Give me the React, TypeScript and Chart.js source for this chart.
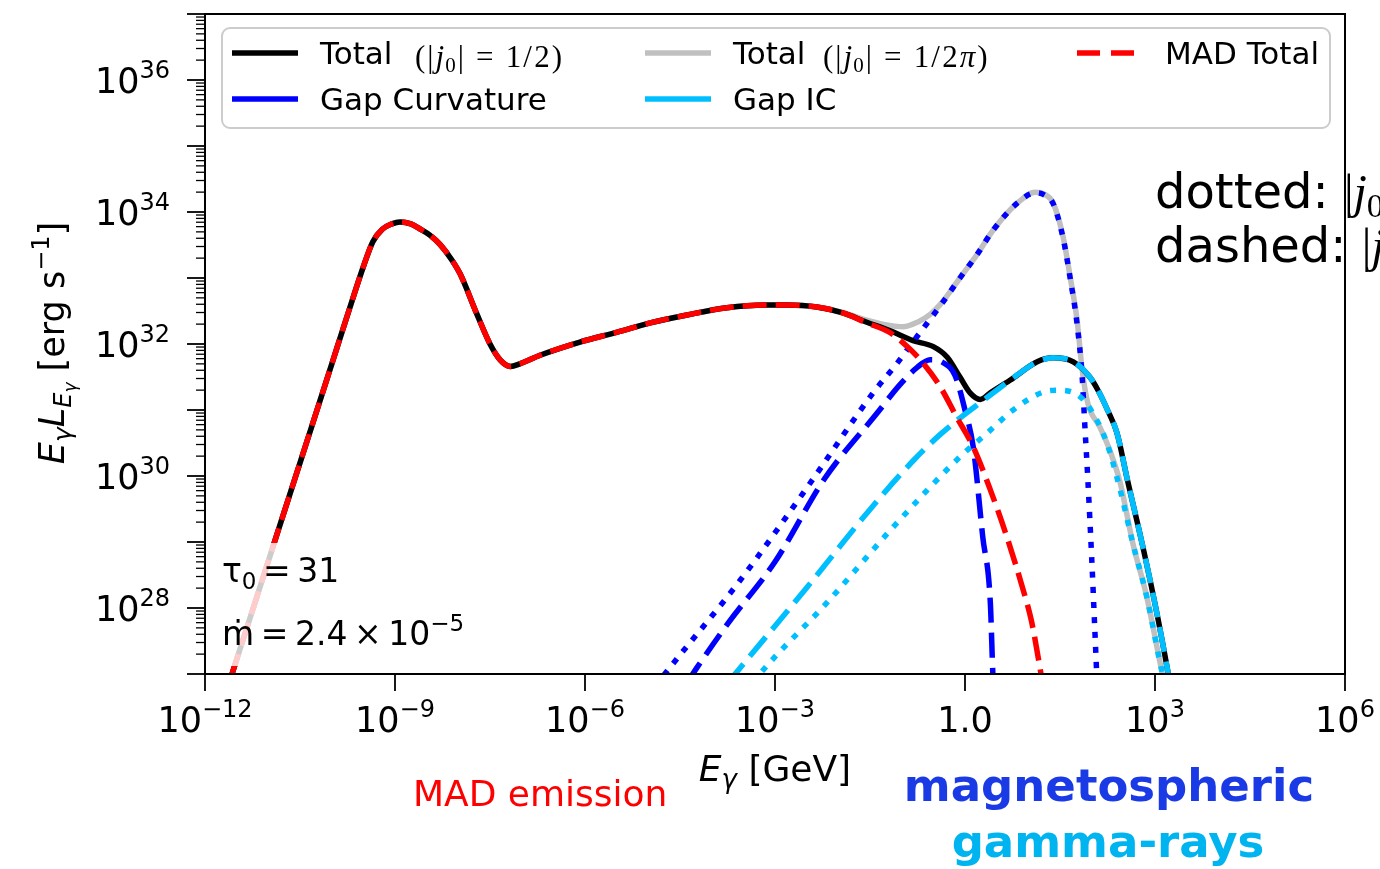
import React, { useEffect, useRef } from 'react';
import { Chart, registerables } from 'chart.js';
Chart.register(...registerables);

const W = 1380;
const H = 869;

// log10(E_gamma / GeV) and log10(E L_E / erg s^-1)
const madLogE = [-11.75, -11.574, -11.0, -10.5, -10.0, -9.71, -9.5, -9.35, -9.2, -9.05, -8.92, -8.75, -8.6, -8.45, -8.29, -8.1, -7.97, -7.71, -7.5, -7.34, -7.18, -7.03, -6.71, -6.08, -5.49, -4.97, -4.39, -3.76, -3.13, -2.81, -2.34, -1.93, -1.55, -1.18, -0.9, -0.66, -0.39, -0.13, 0.13, 0.4, 0.66, 0.92, 1.05, 1.2, 1.3];
const madLogL = [26.48, 27.0, 28.71, 30.2, 31.69, 32.56, 33.17, 33.55, 33.74, 33.82, 33.85, 33.82, 33.74, 33.65, 33.51, 33.27, 33.06, 32.46, 32.0, 31.76, 31.66, 31.7, 31.83, 32.03, 32.18, 32.32, 32.44, 32.55, 32.59, 32.59, 32.56, 32.47, 32.32, 32.17, 31.95, 31.71, 31.35, 30.89, 30.44, 29.79, 29.08, 28.27, 27.8, 27.0, 26.4];

const totHalfLogE = [-11.75, -11.574, -11.0, -10.5, -10.0, -9.71, -9.5, -9.35, -9.2, -9.05, -8.92, -8.75, -8.6, -8.45, -8.29, -8.1, -7.97, -7.71, -7.5, -7.34, -7.18, -7.03, -6.71, -6.08, -5.49, -4.97, -4.39, -3.76, -3.13, -2.81, -2.34, -1.93, -1.55, -1.18, -0.82, -0.5, -0.28, -0.08, 0.08, 0.24, 0.4, 0.71, 1.14, 1.39, 1.71, 1.97, 2.1, 2.25, 2.4, 2.56, 2.81, 3.03, 3.21, 3.3];
const totHalfLogL = [26.48, 27.0, 28.71, 30.2, 31.69, 32.56, 33.17, 33.55, 33.74, 33.82, 33.85, 33.82, 33.74, 33.65, 33.51, 33.27, 33.06, 32.46, 32.0, 31.76, 31.66, 31.7, 31.83, 32.03, 32.18, 32.32, 32.44, 32.55, 32.59, 32.59, 32.56, 32.47, 32.33, 32.2, 32.05, 31.96, 31.8, 31.5, 31.26, 31.16, 31.26, 31.45, 31.73, 31.79, 31.73, 31.5, 31.3, 31.0, 30.65, 29.96, 28.92, 27.92, 27.0, 26.5];

const totPiLogE = [-11.75, -11.574, -11.0, -10.5, -10.0, -9.71, -9.5, -9.35, -9.2, -9.05, -8.92, -8.75, -8.6, -8.45, -8.29, -8.1, -7.97, -7.71, -7.5, -7.34, -7.18, -7.03, -6.71, -6.08, -5.49, -4.97, -4.39, -3.76, -3.13, -2.81, -2.34, -1.93, -1.55, -1.3, -0.98, -0.75, -0.55, -0.39, -0.08, 0.2, 0.44, 0.82, 1.11, 1.25, 1.39, 1.55, 1.66, 1.77, 1.85, 1.94, 2.13, 2.29, 2.45, 2.65, 2.87, 3.08, 3.2];
const totPiLogL = [26.48, 27.0, 28.71, 30.2, 31.69, 32.56, 33.17, 33.55, 33.74, 33.82, 33.85, 33.82, 33.74, 33.65, 33.51, 33.27, 33.06, 32.46, 32.0, 31.76, 31.66, 31.7, 31.83, 32.03, 32.18, 32.32, 32.44, 32.55, 32.59, 32.59, 32.56, 32.48, 32.36, 32.3, 32.26, 32.33, 32.45, 32.6, 33.0, 33.37, 33.72, 34.13, 34.3, 34.27, 34.14, 33.62, 33.02, 32.36, 31.61, 31.1, 30.74, 30.38, 29.9, 28.98, 28.17, 27.17, 26.6];

const curvHalfLogE = [-4.4, -4.23, -3.74, -3.0, -2.21, -1.39, -1.03, -0.75, -0.55, -0.35, -0.16, 0.0, 0.13, 0.28, 0.4, 0.44, 0.48];
const curvHalfLogL = [26.85, 27.1, 27.77, 28.7, 29.97, 30.95, 31.38, 31.65, 31.76, 31.72, 31.53, 31.0, 30.44, 29.08, 28.08, 27.0, 26.3];

const curvPiLogE = [-4.9, -4.74, -3.55, -2.49, -1.45, -1.07, -0.76, -0.39, -0.08, 0.2, 0.44, 0.82, 1.11, 1.25, 1.39, 1.55, 1.66, 1.77, 1.85, 1.89, 1.94, 2.0, 2.05, 2.08, 2.12];
const curvPiLogL = [26.8, 27.0, 28.42, 29.83, 31.26, 31.71, 32.11, 32.58, 33.0, 33.37, 33.72, 34.13, 34.29, 34.26, 34.13, 33.6, 33.0, 32.3, 31.5, 30.8, 29.94, 28.77, 27.67, 27.0, 26.3];

const icHalfLogE = [-3.75, -3.63, -2.49, -1.45, -0.8, -0.39, -0.05, 0.28, 0.5, 0.71, 1.14, 1.39, 1.71, 1.97, 2.1, 2.25, 2.4, 2.56, 2.81, 3.03, 3.21, 3.3];
const icHalfLogL = [26.86, 27.0, 28.32, 29.55, 30.25, 30.63, 30.9, 31.14, 31.3, 31.45, 31.73, 31.79, 31.73, 31.5, 31.3, 31.0, 30.65, 29.96, 28.92, 27.92, 27.0, 26.5];

const icPiLogE = [-3.35, -3.24, -2.18, -1.13, -0.08, 0.35, 0.76, 1.23, 1.5, 1.82, 2.02, 2.24, 2.45, 2.65, 2.87, 3.08, 3.12, 3.2];
const icPiLogL = [26.86, 27.0, 28.08, 29.23, 30.29, 30.65, 31.0, 31.27, 31.3, 31.2, 30.95, 30.5, 29.79, 28.98, 28.17, 27.17, 27.0, 26.6];

const xTickExps = [-12, -9, -6, -3, 0, 3, 6];
const yLabelExps = [28, 30, 32, 34, 36];
const yDecades = [27, 28, 29, 30, 31, 32, 33, 34, 35, 36, 37];

const SANS = '"DejaVu Sans", sans-serif';
const SERIF = '"Liberation Serif", "DejaVu Serif", serif';
const f = (px: number, style = '', fam = SANS) => `${style} ${px}px ${fam}`.trim();

const toPts = (lx: number[], ly: number[]) => lx.map((v, i) => ({ x: Math.pow(10, v), y: Math.pow(10, ly[i]) }));

type Run = { t: string; f: string; dy?: number; ls?: number };
function runWidth(ctx: CanvasRenderingContext2D, r: Run) {
  ctx.font = r.f;
  return ctx.measureText(r.t).width + (r.ls || 0) * r.t.length;
}
function drawRuns(ctx: CanvasRenderingContext2D, runs: Run[], x: number, y: number, align: 'left' | 'center' | 'right' = 'left') {
  let w = 0;
  for (const r of runs) w += runWidth(ctx, r);
  let cx = align === 'left' ? x : align === 'center' ? x - w / 2 : x - w;
  ctx.textAlign = 'left';
  ctx.textBaseline = 'alphabetic';
  for (const r of runs) {
    ctx.font = r.f;
    if (r.ls) {
      for (const ch of r.t) {
        ctx.fillText(ch, cx, y + (r.dy || 0));
        cx += ctx.measureText(ch).width + r.ls;
      }
    } else {
      ctx.fillText(r.t, cx, y + (r.dy || 0));
      cx += ctx.measureText(r.t).width;
    }
  }
  return cx;
}

const supLabel = (e: number): Run[] => {
  if (e === 0) return [{ t: '1.0', f: f(35) }];
  return [{ t: '10', f: f(35) }, { t: String(e).replace('-', '\u2212'), f: f(24), dy: -15 }];
};

const overlay = {
  id: 'overlay',
  afterDatasetsDraw(chart: any) {
    const ctx: CanvasRenderingContext2D = chart.ctx;
    const xs = chart.scales.x;
    const ys = chart.scales.y;
    const { left, right, top, bottom } = chart.chartArea;
    ctx.save();

    // translucent annotation box
    ctx.fillStyle = 'rgba(255,255,255,0.8)';
    ctx.fillRect(left + 4, 543, 270, bottom - 8 - 543);

    ctx.fillStyle = '#000';
    drawRuns(ctx, [{ t: '\u03c4', f: f(33) }, { t: '0', f: f(23), dy: 7 }, { t: '\u2009=\u200931', f: f(33) }], 222, 582);
    drawRuns(ctx, [{ t: '\u1e41\u2009=\u20092.4\u2009\u00d7\u200910', f: f(33) }, { t: '\u22125', f: f(23), dy: -14 }], 222, 645);

    // legend
    const lx0 = 222, ly0 = 28, lw = 1108, lh = 100, rr = 8;
    ctx.beginPath();
    ctx.moveTo(lx0 + rr, ly0);
    ctx.arcTo(lx0 + lw, ly0, lx0 + lw, ly0 + lh, rr);
    ctx.arcTo(lx0 + lw, ly0 + lh, lx0, ly0 + lh, rr);
    ctx.arcTo(lx0, ly0 + lh, lx0, ly0, rr);
    ctx.arcTo(lx0, ly0, lx0 + lw, ly0, rr);
    ctx.closePath();
    ctx.fillStyle = 'rgba(255,255,255,0.8)';
    ctx.fill();
    ctx.strokeStyle = '#cccccc';
    ctx.lineWidth = 2;
    ctx.stroke();

    const handle = (x1: number, y: number, color: string, dash: number[]) => {
      ctx.save();
      ctx.strokeStyle = color;
      ctx.lineWidth = 5.5;
      ctx.lineCap = 'butt';
      ctx.setLineDash(dash);
      ctx.beginPath();
      ctx.moveTo(x1, y);
      ctx.lineTo(x1 + 66, y);
      ctx.stroke();
      ctx.restore();
    };
    handle(232, 53, '#000000', []);
    handle(645, 53, '#c0c0c0', []);
    handle(1077, 53, '#ff0000', [23, 11]);
    handle(232, 99, '#0000ff', []);
    handle(645, 99, '#00bfff', []);
    ctx.fillStyle = '#000';
    drawRuns(ctx, [{ t: 'Total', f: f(31) }], 320, 64);
    drawRuns(ctx, [
      { t: '(|', f: f(31, '', SERIF), ls: 2 }, { t: 'j', f: f(31, 'italic', SERIF), ls: 1 }, { t: '0', f: f(21, '', SERIF), dy: 5, ls: 2 },
      { t: '| = 1/2)', f: f(31, '', SERIF), ls: 2.2 },
    ], 415, 67);
    drawRuns(ctx, [{ t: 'Total', f: f(31) }], 733, 64);
    drawRuns(ctx, [
      { t: '(|', f: f(31, '', SERIF), ls: 2 }, { t: 'j', f: f(31, 'italic', SERIF), ls: 1 }, { t: '0', f: f(21, '', SERIF), dy: 5, ls: 2 },
      { t: '| = 1/2', f: f(31, '', SERIF), ls: 2.2 }, { t: '\u03c0', f: f(31, 'italic', SERIF), ls: 2 }, { t: ')', f: f(31, '', SERIF) },
    ], 823, 67);
    drawRuns(ctx, [{ t: 'MAD Total', f: f(31) }], 1165, 64);
    drawRuns(ctx, [{ t: 'Gap Curvature', f: f(31) }], 320, 110);
    drawRuns(ctx, [{ t: 'Gap IC', f: f(31) }], 733, 110);

    // spines
    ctx.strokeStyle = '#000';
    ctx.lineWidth = 2;
    ctx.setLineDash([]);
    ctx.strokeRect(left, top, right - left, bottom - top);

    // x ticks
    ctx.lineWidth = 1.8;
    for (const e of xTickExps) {
      const px = xs.getPixelForValue(Math.pow(10, e));
      ctx.beginPath();
      ctx.moveTo(px, bottom);
      ctx.lineTo(px, bottom + 17);
      ctx.stroke();
      ctx.fillStyle = '#000';
      drawRuns(ctx, supLabel(e), px, 732, 'center');
    }
    // y ticks
    for (const d of yDecades) {
      const py = ys.getPixelForValue(Math.pow(10, d));
      ctx.lineWidth = 1.8;
      ctx.beginPath();
      ctx.moveTo(left - 18, py);
      ctx.lineTo(left, py);
      ctx.stroke();
      if (d < 37) {
        ctx.lineWidth = 1.3;
        for (let k = 2; k <= 9; k++) {
          const pm = ys.getPixelForValue(k * Math.pow(10, d));
          ctx.beginPath();
          ctx.moveTo(left - 9, pm);
          ctx.lineTo(left, pm);
          ctx.stroke();
        }
      }
    }
    ctx.fillStyle = '#000';
    for (const e of yLabelExps) {
      const py = ys.getPixelForValue(Math.pow(10, e));
      drawRuns(ctx, supLabel(e), 170, py + 13, 'right');
    }

    // axis titles
    drawRuns(ctx, [{ t: 'E', f: f(36, 'italic') }, { t: '\u03b3', f: f(26, 'italic'), dy: 7 }, { t: ' [GeV]', f: f(36) }], 775, 781, 'center');
    ctx.save();
    ctx.translate(64, 343);
    ctx.rotate(-Math.PI / 2);
    drawRuns(ctx, [
      { t: 'E', f: f(35, 'italic') }, { t: '\u03b3', f: f(25, 'italic'), dy: 7 },
      { t: 'L', f: f(35, 'italic') }, { t: 'E', f: f(24, 'italic'), dy: 7 }, { t: '\u03b3', f: f(17, 'italic'), dy: 12 },
      { t: ' [erg s', f: f(35) }, { t: '\u22121', f: f(24), dy: -15 }, { t: ']', f: f(35) },
    ], 0, 0, 'center');
    ctx.restore();

    // right-side notes
    ctx.fillStyle = '#000';
    drawRuns(ctx, [{ t: 'dotted: ', f: f(48) }, { t: '|', f: f(48, '', SERIF) }, { t: 'j', f: f(48, 'italic', SERIF) }, { t: '0', f: f(34, '', SERIF), dy: 9 }, { t: '| = 1/2\u03c0', f: f(48, '', SERIF) }], 1155, 208);
    drawRuns(ctx, [{ t: 'dashed: ', f: f(48) }, { t: '|', f: f(48, '', SERIF) }, { t: 'j', f: f(48, 'italic', SERIF) }, { t: '0', f: f(34, '', SERIF), dy: 9 }, { t: '| = 1/2', f: f(48, '', SERIF) }], 1155, 262);

    // bottom captions
    ctx.fillStyle = '#ff0000';
    drawRuns(ctx, [{ t: 'MAD emission', f: f(36) }], 413, 806);
    ctx.fillStyle = '#1a3ae6';
    drawRuns(ctx, [{ t: 'magnetospheric', f: f(45, 'bold') }], 1109, 801, 'center');
    ctx.fillStyle = '#00b4f0';
    drawRuns(ctx, [{ t: 'gamma-rays', f: f(45, 'bold') }], 1108, 857, 'center');

    ctx.restore();
  },
};

const line = (label: string, lx: number[], ly: number[], color: string, dash: number[], width = 5.5) => ({
  label,
  data: toPts(lx, ly),
  borderColor: color,
  backgroundColor: color,
  borderWidth: width,
  borderDash: dash,
  borderCapStyle: 'butt' as const,
  borderJoinStyle: 'round' as const,
  pointRadius: 0,
  fill: false,
  showLine: true,
  cubicInterpolationMode: 'monotone' as const,
  clip: 0,
});

export default function App() {
  const ref = useRef<HTMLCanvasElement | null>(null);
  useEffect(() => {
    if (!ref.current) return;
    const chart = new Chart(ref.current, {
      type: 'scatter',
      data: {
        datasets: [
          line('MAD Total', madLogE, madLogL, '#ff0000', [24, 9]),
          line('Gap IC dotted', icPiLogE, icPiLogL, '#00bfff', [6, 9]),
          line('Gap IC', icHalfLogE, icHalfLogL, '#00bfff', [25, 10]),
          line('Gap Curvature dotted', curvPiLogE, curvPiLogL, '#0000ff', [6, 9]),
          line('Gap Curvature', curvHalfLogE, curvHalfLogL, '#0000ff', [25, 10]),
          line('Total (|j0| = 1/2)', totHalfLogE, totHalfLogL, '#000000', []),
          line('Total (|j0| = 1/2pi)', totPiLogE, totPiLogL, '#c0c0c0', []),
        ] as any,
      },
      options: {
        animation: false,
        responsive: false,
        devicePixelRatio: 1,
        events: [],
        layout: { padding: { left: 205, right: 35, top: 14, bottom: 195 } },
        scales: {
          x: { type: 'logarithmic', min: 1e-12, max: 1e6, display: false },
          y: { type: 'logarithmic', min: 1e27, max: 1e37, display: false },
        },
        plugins: { legend: { display: false }, tooltip: { enabled: false } },
      } as any,
      plugins: [overlay],
    });
    return () => chart.destroy();
  }, []);
  return (
    <div style={{ position: 'absolute', left: 0, top: 0, width: W, height: H, background: '#fff' }}>
      <canvas ref={ref} width={W} height={H} style={{ display: 'block', width: W, height: H }} />
    </div>
  );
}
